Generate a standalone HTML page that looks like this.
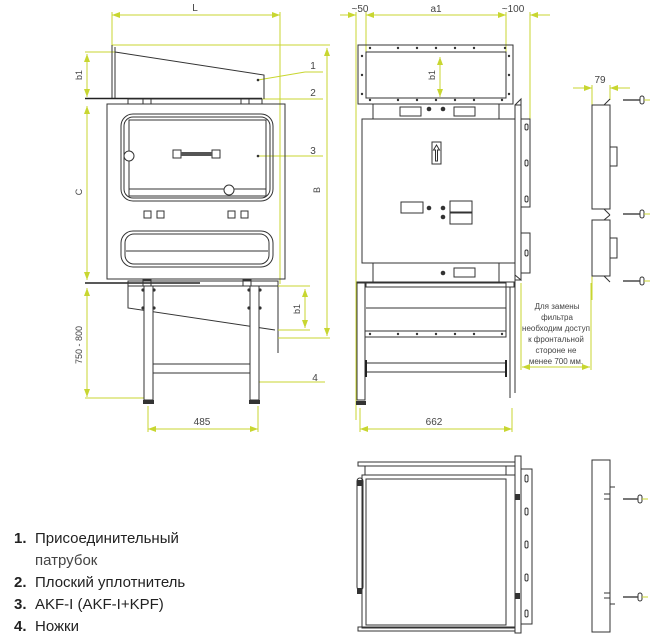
<!DOCTYPE html>
<html><head><meta charset="utf-8"><style>
html,body{margin:0;padding:0;background:#fff;width:662px;height:642px;overflow:hidden}
svg{display:block}
text{font-family:"Liberation Sans",sans-serif;fill:#444}
.k{stroke:#333;fill:none;stroke-width:1}
.kf{stroke:#333;fill:#fff;stroke-width:1}
.y{stroke:#c8d630;fill:none;stroke-width:1}
.d{fill:#333}
</style></head><body>
<svg width="662" height="642" viewBox="0 0 662 642" xmlns="http://www.w3.org/2000/svg">
<defs>
<marker id="a" markerWidth="8" markerHeight="6" refX="8" refY="3" orient="auto-start-reverse"><path d="M0,0L8,3L0,6z" fill="#c8d630"/></marker>
</defs>

<!-- ===== LEFT VIEW ===== -->
<!-- dims -->
<line class="y" x1="112" y1="15" x2="280" y2="15" marker-start="url(#a)" marker-end="url(#a)"/>
<text x="195" y="11" font-size="10" text-anchor="middle">L</text>
<line class="y" x1="112" y1="12" x2="112" y2="46"/>
<line class="y" x1="280" y1="12" x2="280" y2="284"/>
<line class="y" x1="112" y1="45" x2="330" y2="45"/>
<line class="y" x1="327" y1="48" x2="327" y2="336" marker-start="url(#a)" marker-end="url(#a)"/>
<text x="320" y="190" font-size="9" transform="rotate(-90 320 190)" text-anchor="middle">B</text>
<line class="y" x1="85" y1="52" x2="115" y2="52"/>
<line class="y" x1="87" y1="54" x2="87" y2="97" marker-start="url(#a)" marker-end="url(#a)"/>
<text x="82" y="75" font-size="9" transform="rotate(-90 82 75)" text-anchor="middle">b1</text>
<line class="y" x1="87" y1="106" x2="87" y2="280" marker-start="url(#a)" marker-end="url(#a)"/>
<text x="82" y="192" font-size="9" transform="rotate(-90 82 192)" text-anchor="middle">C</text>
<line class="y" x1="87" y1="288" x2="87" y2="397" marker-start="url(#a)" marker-end="url(#a)"/>
<text x="82" y="345" font-size="9" transform="rotate(-90 82 345)" text-anchor="middle">750 - 800</text>
<line class="y" x1="85" y1="398" x2="146" y2="398"/>
<line class="y" x1="148" y1="406" x2="148" y2="432"/>
<line class="y" x1="258" y1="406" x2="258" y2="432"/>
<line class="y" x1="148" y1="429" x2="258" y2="429" marker-start="url(#a)" marker-end="url(#a)"/>
<text x="202" y="425" font-size="10" text-anchor="middle">485</text>
<!-- labels -->
<line class="y" x1="258" y1="80" x2="305" y2="72"/><line class="y" x1="305" y1="72" x2="323" y2="72"/>
<text x="313" y="69" font-size="10" text-anchor="middle">1</text>
<line class="y" x1="260" y1="99" x2="323" y2="99"/>
<text x="313" y="96" font-size="10" text-anchor="middle">2</text>
<line class="y" x1="258" y1="156" x2="323" y2="156"/>
<text x="313" y="154" font-size="10" text-anchor="middle">3</text>
<line class="y" x1="258" y1="382" x2="325" y2="382"/>
<text x="315" y="381" font-size="10" text-anchor="middle">4</text>
<!-- nozzle -->
<path class="k" d="M112,45V99M115,47V99M115,52L264,75V99"/>
<circle class="d" cx="258" cy="80" r="1.3"/>
<line x1="85" y1="98.5" x2="262" y2="98.5" stroke="#222" stroke-width="1.6"/>
<rect class="k" x="128" y="99" width="134" height="5"/>
<rect class="k" x="143" y="99" width="8" height="5"/><rect class="k" x="241" y="99" width="8" height="5"/>
<!-- box -->
<rect class="k" x="107" y="104" width="178" height="175"/>
<rect class="k" x="121" y="114" width="152" height="87" rx="12"/>
<rect class="k" x="124" y="117" width="146" height="81" rx="9"/>
<rect class="k" x="129" y="120" width="137" height="76"/>
<line class="k" x1="129" y1="189" x2="266" y2="189"/>
<circle class="kf" cx="129" cy="156" r="5"/>
<circle class="kf" cx="229" cy="190" r="5"/>
<rect class="k" x="173" y="150" width="8" height="8"/><rect class="k" x="212" y="150" width="8" height="8"/>
<rect x="181" y="152" width="31" height="4" fill="#555"/>
<circle class="d" cx="258" cy="156" r="1.3"/>
<g class="k"><rect x="144" y="211" width="7" height="7"/><rect x="157" y="211" width="7" height="7"/><rect x="228" y="211" width="7" height="7"/><rect x="241" y="211" width="7" height="7"/></g>
<rect class="k" x="121" y="231" width="152" height="36" rx="12"/>
<rect class="k" x="125" y="234" width="144" height="30" rx="9"/>
<line class="k" x1="126" y1="251" x2="268" y2="251"/>
<line x1="85" y1="283" x2="200" y2="283" stroke="#222" stroke-width="1.4"/>
<rect class="k" x="128" y="281" width="150" height="5"/>
<rect class="k" x="143" y="280" width="8" height="6"/><rect class="k" x="243" y="280" width="8" height="6"/>
<!-- duct below -->
<path class="k" d="M128,286V308L275,330M278,283V353"/>
<line class="y" x1="278" y1="286" x2="310" y2="286"/>
<line class="y" x1="278" y1="330" x2="310" y2="330"/>
<line class="y" x1="278" y1="338" x2="330" y2="338"/>
<line class="y" x1="305" y1="289" x2="305" y2="328" marker-start="url(#a)" marker-end="url(#a)"/>
<text x="300" y="309" font-size="9" transform="rotate(-90 300 309)" text-anchor="middle">b1</text>
<!-- legs -->
<rect class="kf" x="144" y="286" width="9" height="114"/>
<rect class="kf" x="250" y="286" width="9" height="114"/>
<rect class="k" x="153" y="364" width="97" height="9"/>
<rect x="143" y="400" width="11" height="4" fill="#333"/><rect x="249" y="400" width="11" height="4" fill="#333"/>
<g class="d"><circle cx="143" cy="290" r="1.6"/><circle cx="154" cy="290" r="1.6"/><circle cx="249" cy="290" r="1.6"/><circle cx="260" cy="290" r="1.6"/>
<circle cx="143" cy="308" r="1.6"/><circle cx="154" cy="308" r="1.6"/><circle cx="249" cy="308" r="1.6"/><circle cx="260" cy="308" r="1.6"/></g>

<!-- ===== MIDDLE VIEW ===== -->
<line class="y" x1="340" y1="15" x2="356" y2="15" marker-end="url(#a)"/>
<line class="y" x1="366" y1="15" x2="506" y2="15" marker-start="url(#a)" marker-end="url(#a)"/>
<line class="y" x1="530" y1="15" x2="550" y2="15" marker-start="url(#a)"/>
<text x="360" y="12" font-size="10" text-anchor="middle">~50</text>
<text x="436" y="12" font-size="10" text-anchor="middle">a1</text>
<text x="513" y="12" font-size="10" text-anchor="middle">~100</text>
<line class="y" x1="356" y1="12" x2="356" y2="420"/>
<line class="y" x1="366" y1="12" x2="366" y2="52"/>
<line class="y" x1="506" y1="12" x2="506" y2="52"/>
<line class="y" x1="530" y1="12" x2="530" y2="120"/>
<line class="y" x1="440" y1="57" x2="440" y2="97" marker-start="url(#a)" marker-end="url(#a)"/>
<text x="435" y="75" font-size="9" transform="rotate(-90 435 75)" text-anchor="middle">b1</text>
<rect class="k" x="358" y="45" width="155" height="59"/>
<rect class="k" x="366" y="52" width="140" height="46"/>
<g class="d">
<circle cx="370" cy="48" r="1.2"/><circle cx="398" cy="48" r="1.2"/><circle cx="417" cy="48" r="1.2"/><circle cx="436" cy="48" r="1.2"/><circle cx="455" cy="48" r="1.2"/><circle cx="474" cy="48" r="1.2"/><circle cx="505" cy="48" r="1.2"/>
<circle cx="370" cy="100" r="1.2"/><circle cx="398" cy="100" r="1.2"/><circle cx="417" cy="100" r="1.2"/><circle cx="436" cy="100" r="1.2"/><circle cx="455" cy="100" r="1.2"/><circle cx="474" cy="100" r="1.2"/><circle cx="502" cy="100" r="1.2"/>
<circle cx="362" cy="56" r="1.2"/><circle cx="362" cy="75" r="1.2"/><circle cx="362" cy="94" r="1.2"/>
<circle cx="509" cy="56" r="1.2"/><circle cx="509" cy="75" r="1.2"/><circle cx="509" cy="94" r="1.2"/>
</g>
<rect class="k" x="373" y="104" width="126" height="15"/>
<rect class="k" x="400" y="107" width="21" height="9"/>
<circle class="d" cx="429" cy="109" r="2.3"/><circle class="d" cx="443" cy="109" r="2.3"/>
<rect class="k" x="454" y="107" width="21" height="9"/>
<rect class="k" x="362" y="119" width="153" height="144"/>
<path class="k" d="M515,105L521,99V280L515,275M521,105H515"/>
<rect class="k" x="515" y="105" width="6" height="175"/>
<rect class="k" x="521" y="119" width="9" height="88"/>
<rect class="k" x="521" y="233" width="9" height="40"/>
<g class="k"><rect x="525" y="124" width="3" height="6" rx="1.5"/><rect x="525" y="160" width="3" height="6" rx="1.5"/><rect x="525" y="196" width="3" height="6" rx="1.5"/><rect x="525" y="250" width="3" height="6" rx="1.5"/></g>
<rect class="k" x="432" y="142" width="9" height="22"/>
<path class="k" d="M436.5,145L433.5,150H435.5V161H437.5V150H439.5Z"/>
<rect class="k" x="401" y="202" width="22" height="11"/>
<circle class="d" cx="429" cy="208" r="2.3"/><circle class="d" cx="443" cy="208" r="2.3"/><circle class="d" cx="443" cy="217" r="2.3"/>
<rect class="k" x="450" y="201" width="22" height="11"/>
<rect class="k" x="450" y="213" width="22" height="11"/>
<rect class="k" x="373" y="263" width="126" height="19"/>
<circle class="d" cx="443" cy="273" r="2.3"/>
<rect class="k" x="454" y="268" width="21" height="9"/>
<!-- stand -->
<rect class="k" x="357" y="282" width="157" height="5"/>
<rect class="k" x="366" y="283" width="140" height="4"/>
<rect class="k" x="365" y="287" width="141" height="50"/>
<line class="k" x1="366" y1="308" x2="506" y2="308"/>
<line class="k" x1="364" y1="331" x2="506" y2="331"/>
<g class="d"><circle cx="370" cy="334" r="1.2"/><circle cx="398" cy="334" r="1.2"/><circle cx="417" cy="334" r="1.2"/><circle cx="436" cy="334" r="1.2"/><circle cx="455" cy="334" r="1.2"/><circle cx="474" cy="334" r="1.2"/><circle cx="502" cy="334" r="1.2"/></g>
<rect class="kf" x="357" y="283" width="8" height="117"/>
<rect class="k" x="366" y="363" width="140" height="9"/>
<line x1="366" y1="360" x2="366" y2="377" stroke="#222" stroke-width="2"/>
<line x1="506" y1="360" x2="506" y2="377" stroke="#222" stroke-width="2"/>
<line class="k" x1="515" y1="280" x2="515" y2="393"/>
<line class="k" x1="510" y1="287" x2="510" y2="398"/>
<rect x="356" y="401" width="10" height="4" fill="#333"/>
<line class="y" x1="360" y1="408" x2="360" y2="432"/>
<line class="y" x1="512" y1="408" x2="512" y2="432"/>
<line class="y" x1="360" y1="429" x2="512" y2="429" marker-start="url(#a)" marker-end="url(#a)"/>
<text x="434" y="425" font-size="10" text-anchor="middle">662</text>
<!-- note -->
<line class="y" x1="521" y1="283" x2="521" y2="370"/>
<line class="y" x1="591" y1="283" x2="591" y2="370"/>
<line class="y" x1="522" y1="367" x2="590" y2="367" marker-start="url(#a)" marker-end="url(#a)"/>
<g font-size="8" text-anchor="middle"><text x="557" y="309">Для замены</text><text x="557" y="320">фильтра</text><text x="556" y="331">необходим доступ</text><text x="556" y="342">к фронтальной</text><text x="556" y="353">стороне не</text><text x="556" y="364">менее 700 мм.</text></g>

<!-- ===== RIGHT VIEW ===== -->
<line class="y" x1="573" y1="88" x2="592" y2="88" marker-end="url(#a)"/>
<line class="y" x1="610" y1="88" x2="630" y2="88" marker-start="url(#a)"/>
<line class="y" x1="592" y1="85" x2="592" y2="106"/>
<line class="y" x1="610" y1="85" x2="610" y2="100"/>
<line class="y" x1="592" y1="275" x2="592" y2="300"/>
<text x="600" y="83" font-size="10" text-anchor="middle">79</text>
<rect class="k" x="592" y="105" width="18" height="104"/>
<rect class="k" x="592" y="220" width="18" height="56"/>
<path class="k" d="M604,105L610,99M604,209L610,215M604,220L610,215M604,276L610,282"/>
<rect class="k" x="610" y="147" width="7" height="19"/>
<rect class="k" x="610" y="238" width="7" height="20"/>
<g stroke="#777" stroke-width="2"><line x1="623" y1="100" x2="640" y2="100"/><line x1="623" y1="214" x2="640" y2="214"/><line x1="623" y1="281" x2="640" y2="281"/>
<line x1="623" y1="499" x2="638" y2="499"/><line x1="623" y1="597" x2="638" y2="597"/></g>
<g class="kf"><rect x="640" y="96" width="4" height="8" rx="2"/><rect x="640" y="210" width="4" height="8" rx="2"/><rect x="640" y="277" width="4" height="8" rx="2"/>
<rect x="638" y="495" width="4" height="8" rx="2"/><rect x="638" y="593" width="4" height="8" rx="2"/></g>
<g class="y"><line x1="644" y1="100" x2="650" y2="100"/><line x1="644" y1="214" x2="650" y2="214"/><line x1="644" y1="281" x2="650" y2="281"/></g>

<!-- ===== BOTTOM MIDDLE VIEW ===== -->
<rect class="k" x="358" y="462" width="157" height="4"/>
<rect class="k" x="365" y="466" width="141" height="9"/>
<rect class="k" x="362" y="475" width="153" height="153"/>
<rect class="k" x="366" y="479" width="140" height="146"/>
<rect class="k" x="358" y="627" width="157" height="4"/>
<rect class="k" x="357" y="478" width="6" height="112" rx="3"/>
<rect x="357" y="480" width="5" height="6" fill="#333"/><rect x="357" y="588" width="5" height="6" fill="#333"/>
<rect class="k" x="515" y="456" width="6" height="177"/>
<rect class="k" x="521" y="469" width="11" height="155"/>
<rect x="515" y="494" width="5" height="6" fill="#333"/><rect x="515" y="593" width="5" height="6" fill="#333"/>
<g class="k"><rect x="525" y="475" width="3" height="7" rx="1.5"/><rect x="525" y="508" width="3" height="7" rx="1.5"/><rect x="525" y="541" width="3" height="7" rx="1.5"/><rect x="525" y="574" width="3" height="7" rx="1.5"/><rect x="525" y="610" width="3" height="7" rx="1.5"/></g>
<!-- bottom right -->
<rect class="k" x="592" y="460" width="18" height="172"/>
<path class="k" d="M610,487H615M610,604H615M604,494H610M604,499H610M604,593H610M604,598H610"/>
<g class="y"><line x1="642" y1="499" x2="648" y2="499"/><line x1="642" y1="597" x2="648" y2="597"/></g>

<!-- legend -->
<g font-size="15" fill="#222">
<text x="14" y="543"><tspan font-weight="bold" fill="#222">1.</tspan><tspan x="35" fill="#222">Присоединительный</tspan></text>
<text x="35" y="565" fill="#222">патрубок</text>
<text x="14" y="587"><tspan font-weight="bold" fill="#222">2.</tspan><tspan x="35" fill="#222">Плоский уплотнитель</tspan></text>
<text x="14" y="609"><tspan font-weight="bold" fill="#222">3.</tspan><tspan x="35" fill="#222">AKF-I (AKF-I+KPF)</tspan></text>
<text x="14" y="631"><tspan font-weight="bold" fill="#222">4.</tspan><tspan x="35" fill="#222">Ножки</tspan></text>
</g>
</svg>
</body></html>
